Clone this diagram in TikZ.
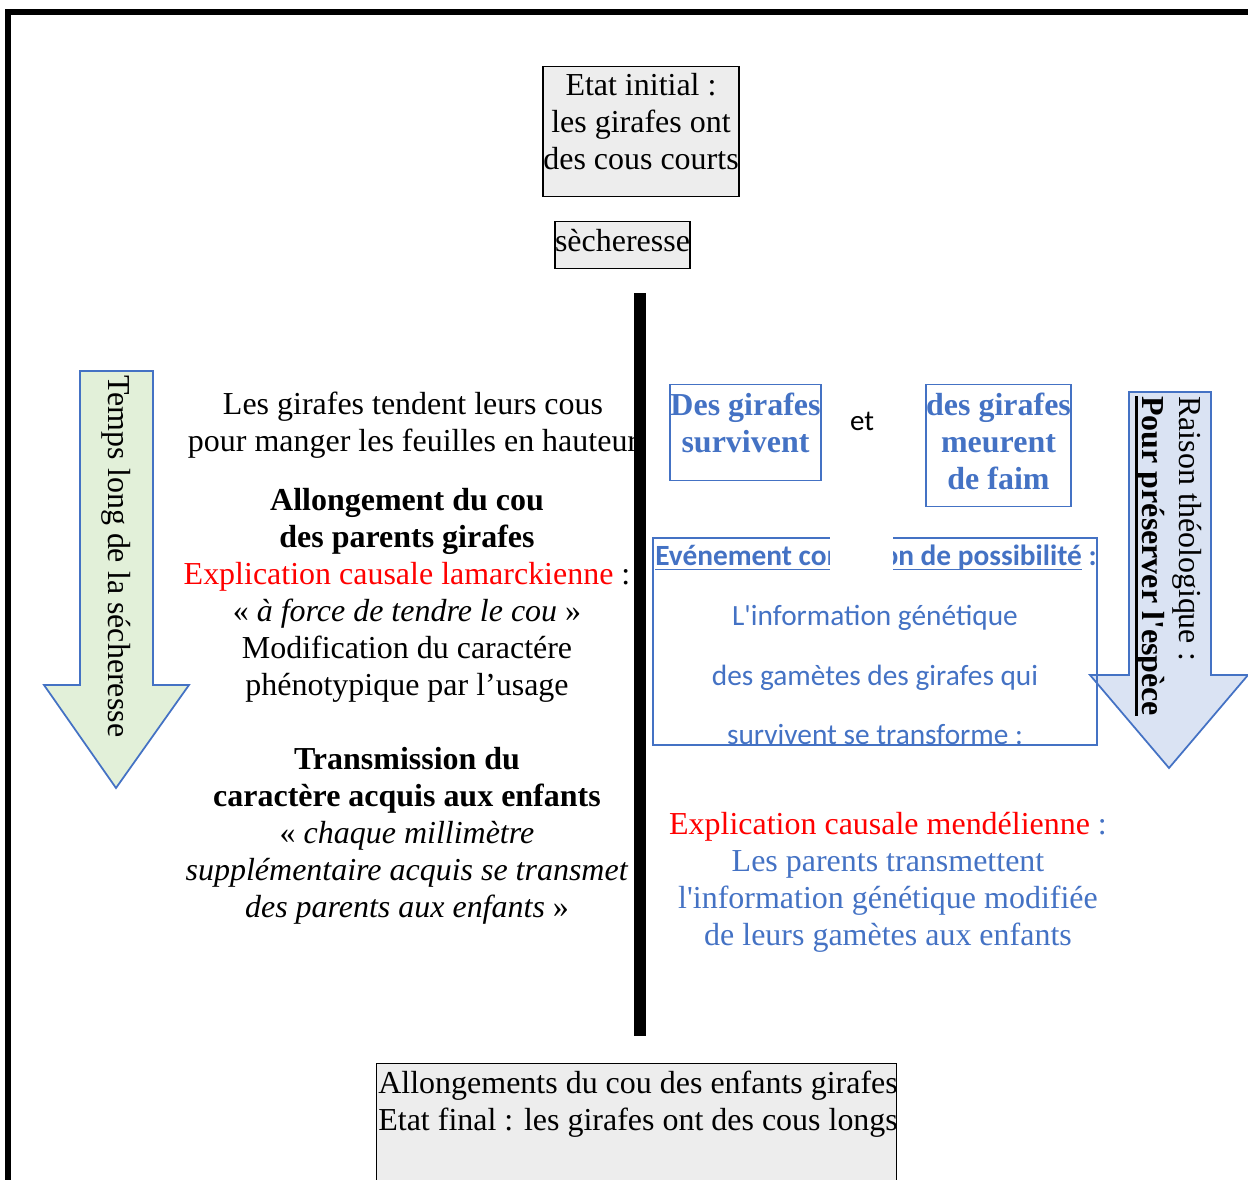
\documentclass[tikz,border=0pt]{standalone}
\usepackage{fontspec}
\setmainfont{Liberation Serif}
\newfontfamily\calibri{Carlito}
\usepackage{xcolor}
\definecolor{bleu}{HTML}{4472C4}
\definecolor{vertclair}{HTML}{E2F0D9}
\definecolor{bleuclair}{HTML}{DAE3F3}
\definecolor{grisclair}{HTML}{EDEDED}
\newcommand{\texte}{\fontsize{18.2}{21}\selectfont}
\newcommand{\souligne}[3]{\setbox0\hbox{#3}\rlap{\rule[#1]{\wd0}{#2}}\box0}

\begin{document}
\begin{tikzpicture}[x=0.02cm, y=-0.02cm,
    grey box/.style={draw, fill=grisclair, line width=0.8pt, inner sep=0pt, align=center, font=\texte},
    blue box/.style={draw=bleu, line width=0.8pt, inner sep=0pt, align=center, text=bleu, font=\texte\bfseries},
    text block/.style={anchor=base, align=center, inner sep=0pt, font=\texte},
    calibri text/.style={anchor=base, inner sep=0pt, text=bleu, font=\calibri\fontsize{16.7}{34}\selectfont}]

\useasboundingbox (0,0) rectangle (1248,1180);
\clip (0,0) rectangle (1248,1180);
\draw[line width=3.4pt] (8,1200) -- (8,12) -- (1260,12);

\node[grey box, anchor=north, minimum width=3.92cm, text height=2.06cm, text depth=0.54cm] (initial) at (641,66)
    {Etat initial :\\les girafes ont\\des cous courts};
\node[grey box, anchor=north, minimum width=2.7cm, text height=0.6cm, text depth=0.34cm] (secheresse) at (622.5,221) {sècheresse};

\draw[fill=vertclair, draw=bleu, line width=1pt] (80,371) -- (153,371) -- (153,685) -- (189,685)
    -- (116,788) -- (44,685) -- (80,685) -- cycle;
\node[rotate=-90, anchor=west, inner sep=0pt, font=\texte] (temps) at (116,375) {Temps long de la sécheresse};

\draw[fill=bleuclair, draw=bleu, line width=1pt] (1129,392) -- (1211,392) -- (1211,675) -- (1248,675)
    -- (1169,768) -- (1090,675) -- (1129,675) -- cycle;
\node[rotate=-90, anchor=west, align=left, inner sep=0pt, font=\texte] (raison) at (1168,396)
    {Raison théologique :\\\textbf{\souligne{-4.2pt}{2pt}{Pour préserver l\textquotesingle espèce}}};

\node[text block] (tendre) at (413,451) {Les girafes tendent leurs cous\\pour manger les feuilles en hauteur};
\node[text block] (lamarck) at (407,695) {\textbf{Allongement du cou}\\\textbf{des parents girafes}\\
    \textcolor{red}{Explication causale lamarckienne} :\\« \textit{à force de tendre le cou} »\\
    Modification du caractére\\phénotypique par l’usage};
\node[text block] (transmission) at (407,917) {\textbf{Transmission du}\\\textbf{caractère acquis aux enfants}\\
    « \textit{chaque millimètre}\\\textit{supplémentaire acquis se transmet}\\\textit{des parents aux enfants} »};

\fill (634,293) rectangle (646,1036);

\node[blue box, anchor=north, minimum width=3.02cm, text height=1.36cm, text depth=0.56cm] (survivent) at (745.5,384)
    {Des girafes\\survivent};
\node[anchor=base, inner sep=0pt, font=\calibri\fontsize{16.5}{20}\selectfont] (et) at (862,430) {et};
\node[blue box, anchor=north, minimum width=2.9cm, text height=2.1cm, text depth=0.34cm] (meurent) at (998.5,384)
    {des girafes\\meurent\\de faim};

\node[draw=bleu, line width=0.8pt, minimum width=8.88cm, minimum height=4.14cm] (evenement) at (875,641.5) {};
\begin{scope}
  \clip (653,538) rectangle (1097,745);
  \node[calibri text, anchor=base west] (titre) at (655,565)
      {\bfseries\souligne{-3pt}{1pt}{Evénement condition de possibilité}~:};
  \foreach \y/\ligne in {625/L'information génétique, 685/des gamètes des girafes qui, 744/survivent se transforme :}
    \node[calibri text] (gen\y) at (875,\y) {\ligne};
\end{scope}
\fill[white] (830,530) rectangle (893,576);

\node[text block, text=bleu] (mendel) at (888,945) {\textcolor{red}{Explication causale mendélienne} :\\
    Les parents transmettent\\l\textquotesingle information génétique modifiée\\de leurs gamètes aux enfants};

\node[grey box, anchor=north west, minimum width=10.4cm, minimum height=3cm] (final) at (376,1063) {};
\node[text block, anchor=base west, align=left] (finaltxt) at (378,1130)
    {Allongements du cou des enfants girafes\\Etat final : les girafes ont des cous longs};
\end{tikzpicture}
\end{document}
